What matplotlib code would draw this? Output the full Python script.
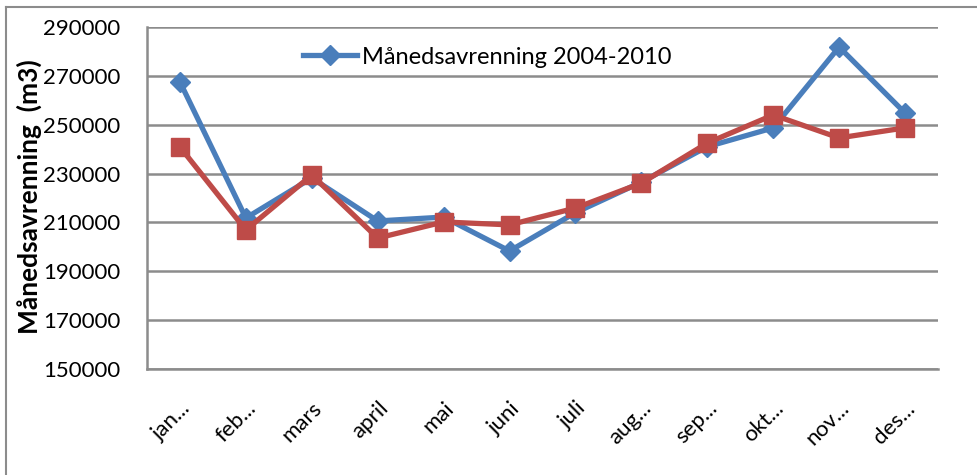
import matplotlib
matplotlib.use("Agg")
import matplotlib.pyplot as plt
from matplotlib.lines import Line2D

months = ["jan...", "feb...", "mars", "april", "mai", "juni", "juli",
          "aug...", "sep...", "okt...", "nov...", "des..."]
avrenning_2004_2010 = [267500, 211800, 228200, 210600, 212200, 198300,
                       214000, 226500, 241000, 248700, 281800, 254800]
avrenning_other = [240900, 206900, 229400, 203600, 210200, 209000,
                   215900, 226100, 242500, 254000, 244600, 248700]
yticks = list(range(150000, 290001, 20000))

BLUE = "#4A7EBB"
RED = "#BE4B48"
GRID = "#8C8C8C"
FS = 16

plt.rcParams["font.family"] = ["Lato", "DejaVu Sans"]

fig = plt.figure(figsize=(9.78, 4.75), dpi=100)
ax = fig.add_axes([147 / 978, 1 - 369 / 475, (938 - 147) / 978, (369 - 27) / 475])

x = list(range(len(months)))
ax.plot(x, avrenning_2004_2010, color=BLUE, lw=3.8, marker="D", ms=10,
        label="Månedsavrenning 2004-2010", zorder=3)
ax.plot(x, avrenning_other, color=RED, lw=3.8, marker="s", ms=13, zorder=4)

ax.set_xlim(-0.5, len(months) - 0.5)
ax.set_ylim(150000, 290000)
ax.set_yticks(yticks)
ax.set_yticklabels([str(v) for v in yticks], fontsize=FS)
ax.set_xticks(x)
ax.set_xticklabels(months, fontsize=FS, rotation=45, ha="right",
                   rotation_mode="anchor")
ax.tick_params(axis="y", length=0, pad=19)
ax.tick_params(axis="x", length=0, pad=21)

ax.grid(axis="y", color=GRID, lw=1.8)
ax.set_axisbelow(True)
for side in ["top", "right"]:
    ax.spines[side].set_visible(False)
ax.spines["left"].set_color(GRID)
ax.spines["left"].set_linewidth(1.8)
ax.spines["bottom"].set_color(GRID)
ax.spines["bottom"].set_linewidth(1.8)

ax.set_ylabel("Månedsavrenning  (m3)", fontsize=19, fontweight="bold")
ax.yaxis.set_label_coords(-0.133, 0.503)

ax.legend(loc="center", bbox_to_anchor=(0.43, 0.912), frameon=False,
          fontsize=17, handlelength=2.3, handletextpad=0.2)

# outer chart border (left and top)
fig.add_artist(Line2D([6 / 978, 6 / 978], [0, 1 - 7 / 475], color=GRID, lw=1.5))
fig.add_artist(Line2D([6 / 978, 1], [1 - 7 / 475, 1 - 7 / 475], color=GRID, lw=1.5))

fig.savefig("out.png", dpi=100)
